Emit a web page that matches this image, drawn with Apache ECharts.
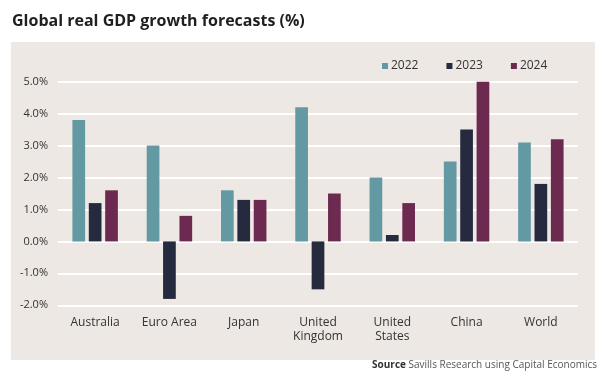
<!DOCTYPE html>
<html>
<head>
<meta charset="utf-8">
<script src="https://cdn.jsdelivr.net/npm/echarts@6/dist/echarts.min.js"></script>
<style>
html,body{margin:0;padding:0;background:#fff;}
#c{width:612px;height:388px;}
</style>
</head>
<body>
<div id="c"></div>
<script>
var categories = ['Australia', 'Euro Area', 'Japan', 'United\nKingdom', 'United\nStates', 'China', 'World'];
var seriesNames = ['2022', '2023', '2024'];
var values2022 = [3.8, 3.0, 1.6, 4.2, 2.0, 2.5, 3.1];
var values2023 = [1.2, -1.8, 1.3, -1.5, 0.2, 3.5, 1.8];
var values2024 = [1.6, 0.8, 1.3, 1.5, 1.2, 5.0, 3.2];
var colors = ['#6299a3', '#252a3e', '#6c2a50'];

var FONT = 'Open Sans';
var chart = echarts.init(document.getElementById('c'));
var data = [values2022, values2023, values2024];
chart.setOption({
  backgroundColor: '#ffffff',
  animation: false,
  graphic: [
    {type: 'rect', z: -10, shape: {x: 11, y: 42, width: 584, height: 318}, style: {fill: '#ede8e3'}},
    {type: 'text', left: 12, top: 13, style: {text: 'Global real GDP growth forecasts (%)', font: 'bold 16px "' + FONT + '"', fill: '#1f1f1f'}},
    {type: 'text', right: 15, top: 360, style: {
      text: '{b|Source} Savills Research using Capital Economics',
      rich: {b: {fontWeight: 'bold', fontFamily: FONT, fontSize: 10, fill: '#333'}},
      fontFamily: FONT, fontSize: 10, fill: '#555'
    }}
  ],
  legend: {
    left: 382, top: 60, padding: 0,
    itemWidth: 6, itemHeight: 6, itemGap: 28,
    icon: 'rect',
    textStyle: {fontFamily: FONT, fontSize: 12, color: '#333', padding: [0, 0, 0, -2]},
    data: seriesNames
  },
  grid: {left: 58, right: 34, top: 81.7, bottom: 82.7, containLabel: false},
  xAxis: {
    type: 'category', data: categories,
    axisLine: {show: false}, axisTick: {show: false},
    axisLabel: {fontFamily: FONT, fontSize: 12, color: '#333', margin: 10, lineHeight: 14}
  },
  yAxis: {
    type: 'value', min: -2, max: 5, interval: 1,
    axisLine: {show: false}, axisTick: {show: false},
    splitLine: {lineStyle: {color: '#ffffff', width: 2}},
    axisLabel: {fontFamily: FONT, fontSize: 11, color: '#333', margin: 10,
      formatter: function (v) { return v.toFixed(1) + '%'; }}
  },
  series: seriesNames.map(function (n, i) {
    return {name: n, type: 'bar', data: data[i], barWidth: 12.7, barGap: '29%',
      itemStyle: {color: colors[i]}};
  })
});
</script>
</body>
</html>
